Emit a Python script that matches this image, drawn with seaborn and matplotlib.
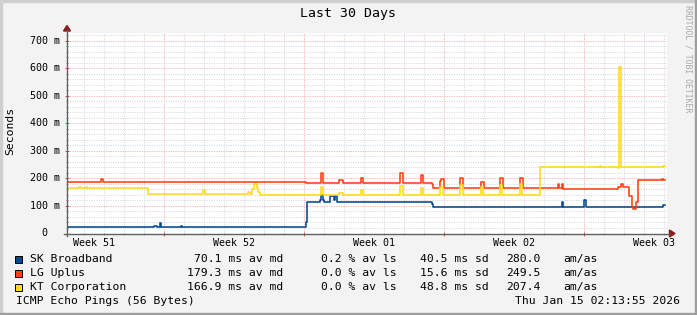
import matplotlib
matplotlib.use("Agg")
import matplotlib.pyplot as plt
from matplotlib.patches import Polygon, Rectangle
from matplotlib.lines import Line2D
from matplotlib.ticker import FixedLocator, NullFormatter
import numpy as np
import pandas as pd
import seaborn as sns

# ---------------- data (days since start, milliseconds) ----------------
sk_day = [0.00, 4.35, 4.49, 4.65, 4.72, 5.70, 5.77, 11.95, 12.02, 12.65, 12.70, 12.80, 12.85,
          13.15, 13.34, 13.39, 13.49, 18.27, 18.32, 24.75, 24.82, 25.87, 25.97, 29.80, 29.90]
sk_ms = [22, 26, 22, 38, 22, 26, 22, 40, 116, 123, 141, 123, 116,
         135, 123, 135, 116, 106, 95, 114, 95, 123, 95, 102, 102]

lg_day = [0.00, 1.70, 1.79, 11.95, 12.70, 12.82, 13.59, 13.82, 14.70, 14.82, 16.65, 16.82,
          17.70, 17.82, 18.27, 18.32, 18.65, 18.69, 18.85, 19.65, 19.82, 20.35, 20.55, 20.70,
          20.85, 21.65, 21.82, 22.65, 22.82, 24.54, 24.62, 24.74, 24.82, 27.57, 27.70, 27.79,
          28.12, 28.24, 28.32, 28.45, 28.54, 29.74, 29.80, 29.90]
lg_ms = [188, 197, 188, 184, 218, 184, 193, 184, 203, 184, 218, 185,
         214, 185, 179, 164, 190, 198, 164, 200, 164, 167, 164, 187,
         164, 200, 164, 200, 164, 178, 164, 178, 163, 169, 179, 169,
         135, 97, 90, 115, 194, 197, 195, 195]

kt_day = [0.00, 0.60, 0.70, 0.95, 1.02, 4.05, 6.80, 6.89, 9.05, 9.15, 9.25, 9.37, 9.49, 9.57,
          9.65, 12.70, 12.82, 13.59, 13.82, 14.70, 14.82, 16.65, 16.82, 17.70, 17.82, 18.65,
          18.82, 19.65, 19.82, 20.70, 20.82, 21.65, 21.77, 22.65, 22.77, 23.65, 26.65, 26.70,
          27.57, 27.62, 27.69, 29.80, 29.90]
kt_ms = [166, 169, 166, 169, 166, 145, 157, 145, 151, 145, 160, 179, 165, 151,
         139, 169, 139, 146, 139, 157, 139, 172, 139, 167, 139, 169,
         139, 175, 139, 169, 139, 175, 139, 181, 139, 241, 244, 241,
         237, 605, 241, 244, 244]

series_names = ["SK Broadband", "LG Uplus", "KT Corporation"]
series_colors = ["#004B8D", "#FF4010", "#FFDB1A"]
med_text = ["70.1 ms av md", "179.3 ms av md", "166.9 ms av md"]
loss_text = ["0.2 % av ls", "0.0 % av ls", "0.0 % av ls"]
sd_text = ["40.5 ms sd", "15.6 ms sd", "48.8 ms sd"]
amas_text = ["280.0", "249.5", "207.4"]

week_labels = ["Week 51", "Week 52", "Week 01", "Week 02", "Week 03"]
week_label_pos = [1.37, 8.37, 15.37, 22.37, 29.37]
week_major = [4.87, 11.87, 18.87, 25.87]
y_major = [0, 100, 200, 300, 400, 500, 600, 700]
y_labels = ["0  ", "100 m", "200 m", "300 m", "400 m", "500 m", "600 m", "700 m"]

title = "Last 30 Days"
footer_left = "ICMP Echo Pings (56 Bytes)"
footer_right = "Thu Jan 15 02:13:55 2026"

# ---------------- figure ----------------
W, H = 697, 315
MONO = "DejaVu Sans Mono"
plt.rcParams["font.family"] = [MONO]

fig = plt.figure(figsize=(W / 100, H / 100), dpi=100, facecolor="#F3F3F3")


def fx(x):
    return x / W


def fy(y):
    return 1 - y / H


x0, x1 = 67, 667
y0, y1 = 233.5, 33
ax = fig.add_axes([fx(x0), fy(y0), (x1 - x0) / W, (y0 - y1) / H])
ax.set_facecolor("white")
ymax = (y0 - y1) / 0.2754
ax.set_xlim(0, 30)
ax.set_ylim(0, ymax)

# grid
ax.xaxis.set_major_locator(FixedLocator(week_major))
ax.xaxis.set_minor_locator(FixedLocator(list(np.arange(0.87, 30, 1.0))))
ax.yaxis.set_major_locator(FixedLocator(y_major))
ax.yaxis.set_minor_locator(FixedLocator(list(range(0, 730, 20))))
ax.xaxis.set_major_formatter(NullFormatter())
ax.yaxis.set_major_formatter(NullFormatter())
ax.grid(which="minor", color="#DCDCDC", linestyle=(0, (1.2, 1.2)), linewidth=0.72)
ax.grid(which="major", color="#F5B5B5", linestyle=(0, (1.2, 1.2)), linewidth=0.72)
ax.set_axisbelow(True)
ax.tick_params(which="major", direction="inout", length=3, width=0.7, color="#D05050")
ax.tick_params(which="minor", direction="inout", length=2, width=0.7, color="#A0A0A0")
for s in ax.spines.values():
    s.set_visible(False)

# data lines
for d, v, c in [(sk_day, sk_ms, series_colors[0]),
                (lg_day, lg_ms, series_colors[1]),
                (kt_day, kt_ms, series_colors[2])]:
    df = pd.DataFrame({"day": d, "ms": v})
    sns.lineplot(data=df, x="day", y="ms", ax=ax, color=c, linewidth=1.15,
                 drawstyle="steps-post", estimator=None, sort=False, legend=False)
ax.set_xlabel("")
ax.set_ylabel("")

# axis lines with arrows
axis_col = "#606060"
fig.add_artist(Line2D([fx(x0), fx(x0)], [fy(236), fy(30)], color=axis_col, lw=1.0))
fig.add_artist(Line2D([fx(64), fx(670)], [fy(y0), fy(y0)], color=axis_col, lw=1.0))
fig.add_artist(Polygon([[fx(x0), fy(25.5)], [fx(x0 - 3.5), fy(31)], [fx(x0 + 3.5), fy(31)]],
                       closed=True, color="#8B1A1A", transform=fig.transFigure))
fig.add_artist(Polygon([[fx(675), fy(y0)], [fx(669.5), fy(y0 - 3.5)], [fx(669.5), fy(y0 + 3.5)]],
                       closed=True, color="#8B1A1A", transform=fig.transFigure))

# frame shading
fig.add_artist(Rectangle((0, fy(2)), 1, 2 / H, color="#CFCFCF", transform=fig.transFigure))
fig.add_artist(Rectangle((0, 0), 2 / W, 1, color="#CFCFCF", transform=fig.transFigure))
fig.add_artist(Rectangle((fx(695), 0), 2 / W, 1, color="#9E9E9E", transform=fig.transFigure))
fig.add_artist(Rectangle((0, 0), 1, 2 / H, color="#9E9E9E", transform=fig.transFigure))

# texts
fig.text(fx(348), fy(14), title, ha="center", va="center", fontsize=9.5, family=MONO)
fig.text(fx(10), fy(131), "Seconds", ha="center", va="center", rotation=90, fontsize=8.2, family=MONO)
fig.text(fx(688), fy(59), "RRDTOOL / TOBI OETIKER", ha="center", va="center", rotation=270,
         fontsize=5.9, family=MONO, color="#A8A8A8")

for v, lab in zip(y_major, y_labels):
    ypx = y0 - v * 0.2754
    fig.text(fx(60), fy(ypx), lab, ha="right", va="center", fontsize=7.2, family=MONO)

for p, lab in zip(week_label_pos, week_labels):
    xpx = x0 + p * 20
    fig.text(fx(xpx), fy(243), lab, ha="center", va="center", fontsize=7.2, family=MONO)

row_y = [259, 273, 287]
for i in range(3):
    yy = row_y[i]
    fig.add_artist(Rectangle((fx(15), fy(yy + 3.5)), 6.5 / W, 7 / H, facecolor=series_colors[i],
                             edgecolor="black", linewidth=0.7, transform=fig.transFigure))
    fig.text(fx(30), fy(yy), series_names[i], ha="left", va="center", fontsize=8.2, family=MONO)
    fig.text(fx(283), fy(yy), med_text[i], ha="right", va="center", fontsize=8.2, family=MONO)
    fig.text(fx(397), fy(yy), loss_text[i], ha="right", va="center", fontsize=8.2, family=MONO)
    fig.text(fx(489), fy(yy), sd_text[i], ha="right", va="center", fontsize=8.2, family=MONO)
    fig.text(fx(541), fy(yy), amas_text[i], ha="right", va="center", fontsize=8.2, family=MONO)
    fig.text(fx(563.5), fy(yy), "am/as", ha="left", va="center", fontsize=8.2, family=MONO)

fig.text(fx(16.5), fy(301.5), footer_left, ha="left", va="center", fontsize=8.2, family=MONO)
fig.text(fx(680), fy(301.5), footer_right, ha="right", va="center", fontsize=8.2, family=MONO)

fig.savefig("out.png", dpi=100, facecolor=fig.get_facecolor())
